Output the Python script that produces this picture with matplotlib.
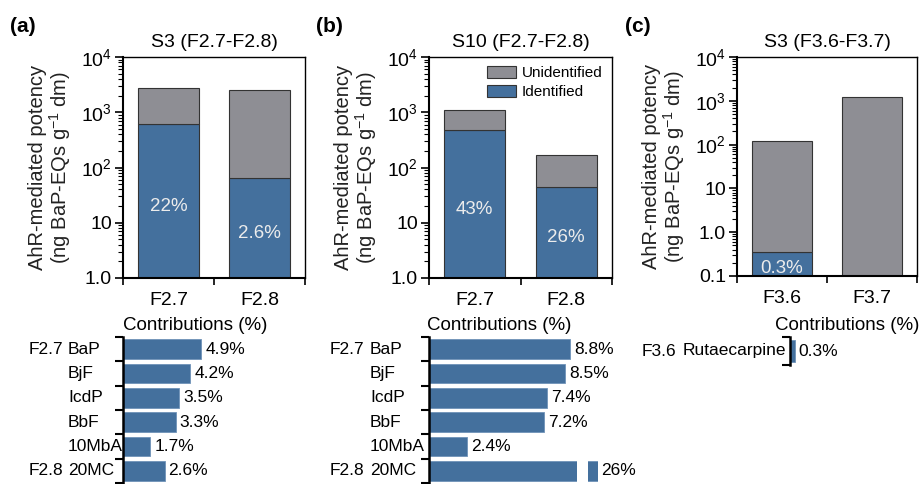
import matplotlib
matplotlib.use("Agg")
import matplotlib.pyplot as plt
from matplotlib.patches import Patch
from matplotlib.ticker import FixedLocator, FixedFormatter, LogLocator, NullFormatter
import matplotlib.transforms as mtransforms

plt.rcParams['font.family'] = ['Liberation Sans', 'DejaVu Sans']
plt.rcParams['mathtext.fontset'] = 'custom'
plt.rcParams['mathtext.rm'] = 'Liberation Sans'
plt.rcParams['mathtext.it'] = 'Liberation Sans:italic'

# ---- potency data (ng BaP-EQs g-1 dm) ----
fractions_a = ["F2.7", "F2.8"]
total_a = [2750, 2500]
identified_a = [615, 65]

fractions_b = ["F2.7", "F2.8"]
total_b = [1100, 170]
identified_b = [475, 44]

fractions_c = ["F3.6", "F3.7"]
total_c = [120, 1200]
identified_c = [0.36, 0]

titles = ["S3 (F2.7-F2.8)", "S10 (F2.7-F2.8)", "S3 (F3.6-F3.7)"]
panel_letters = ["(a)", "(b)", "(c)"]

# ---- contribution data (%) ----
compounds_a = ["BaP", "BjF", "IcdP", "BbF", "10MbA", "20MC"]
groups_a = ["F2.7", "", "", "", "", "F2.8"]
contrib_a = [4.9, 4.2, 3.5, 3.3, 1.7, 2.6]

compounds_b = ["BaP", "BjF", "IcdP", "BbF", "10MbA", "20MC"]
groups_b = ["F2.7", "", "", "", "", "F2.8"]
contrib_b = [8.8, 8.5, 7.4, 7.2, 2.4, 26]

compounds_c = ["Rutaecarpine"]
groups_c = ["F3.6"]
contrib_c = [0.3]

BLUE = "#44709d"
GRAY = "#8e8e94"
EDGE = "#333333"

W, H = 919, 484
fig = plt.figure(figsize=(W / 100, H / 100), dpi=100)


def px_axes(left, top, width, height):
    return fig.add_axes([left / W, (H - top - height) / H, width / W, height / H])


def potency_panel(ax, cats, total, ident, ylo, title, letter, legend=False):
    x = list(range(len(cats)))
    ax.set_yscale('log')
    ax.set_ylim(ylo, 1e4)
    ax.set_xlim(-0.5, 1.5)
    for i in x:
        if ident[i] > 0:
            ax.bar(i, ident[i] - ylo, bottom=ylo, width=0.667, color=BLUE,
                   edgecolor=EDGE, linewidth=0.8, zorder=2)
            ax.bar(i, total[i] - ident[i], bottom=ident[i], width=0.667,
                   color=GRAY, edgecolor=EDGE, linewidth=0.8, zorder=2)
            frac = 100 * ident[i] / total[i]
            ypos = (ylo * ident[i]) ** 0.5 * 0.8
            ax.text(i, ypos, f"{frac:.2g}%", ha='center', va='center',
                    fontsize=13.5, color='#ececec', zorder=3)
        else:
            ax.bar(i, total[i] - ylo, bottom=ylo, width=0.667, color=GRAY,
                   edgecolor=EDGE, linewidth=0.8, zorder=2)
    majors = [10 ** k for k in range(-1, 5) if 10 ** k >= ylo]
    names = {0.1: "0.1", 1: "1.0", 10: "10", 100: r"$\mathregular{10^2}$",
             1000: r"$\mathregular{10^3}$", 10000: r"$\mathregular{10^4}$"}
    ax.yaxis.set_major_locator(FixedLocator(majors))
    ax.yaxis.set_major_formatter(FixedFormatter([names[m] for m in majors]))
    ax.yaxis.set_minor_locator(LogLocator(base=10, subs=range(2, 10), numticks=20))
    ax.yaxis.set_minor_formatter(NullFormatter())
    ax.tick_params(axis='y', which='major', direction='out', length=6, width=1.2,
                   labelsize=14, pad=2)
    ax.tick_params(axis='y', which='minor', direction='out', length=3.5, width=0.8)
    ax.set_xticks(x)
    ax.set_xticklabels(cats)
    ax.xaxis.set_minor_locator(FixedLocator([-0.5, 0.5, 1.5]))
    ax.tick_params(axis='x', which='major', length=0, labelsize=14, pad=10)
    ax.tick_params(axis='x', which='minor', direction='out', length=5, width=1.2)
    for s in ('left', 'bottom'):
        ax.spines[s].set_linewidth(1.5)
    for s in ('top', 'right'):
        ax.spines[s].set_linewidth(1.0)
    ax.set_ylabel("AhR-mediated potency\n(ng BaP-EQs g$^{\\mathregular{-1}}$ dm)",
                  fontsize=14.5, linespacing=1.0, labelpad=6, color='#222222')
    ax.set_title(title, fontsize=14, pad=7)
    ax.text(-0.62, 1.14, letter, transform=ax.transAxes, fontsize=15,
            fontweight='bold', ha='left', va='center')
    if legend:
        handles = [Patch(facecolor=GRAY, edgecolor=EDGE, linewidth=0.8, label="Unidentified"),
                   Patch(facecolor=BLUE, edgecolor=EDGE, linewidth=0.8, label="Identified")]
        ax.legend(handles=handles, loc='upper right', frameon=False, fontsize=11,
                  handlelength=1.9, handleheight=0.8, handletextpad=0.4,
                  labelspacing=0.3, borderaxespad=0.2, bbox_to_anchor=(1.0, 1.0))


def contrib_panel(ax, compounds, groups, values, xmax, comp_off, grp_off,
                  skip_label=()):
    n = len(compounds)
    y = list(range(n))
    ax.barh(y, values, height=0.82, color=BLUE, edgecolor='#6f93b8',
            linewidth=0.6, zorder=2)
    ax.set_xlim(0, xmax)
    ax.set_ylim(n - 0.5, -0.5)
    ax.xaxis.set_visible(False)
    for s in ('top', 'right', 'bottom'):
        ax.spines[s].set_visible(False)
    ax.spines['left'].set_linewidth(1.8)
    ax.set_yticks([k - 0.5 for k in range(n + 1)])
    ax.set_yticklabels([])
    ax.tick_params(axis='y', direction='out', length=6, width=1.5)
    trans = mtransforms.blended_transform_factory(ax.transAxes, ax.transData)
    for i in y:
        off = mtransforms.ScaledTranslation(comp_off / 100, 0, fig.dpi_scale_trans)
        ax.text(0, i, compounds[i], transform=trans + off, ha='left',
                va='center', fontsize=12.5)
        if groups[i]:
            off2 = mtransforms.ScaledTranslation(grp_off / 100, 0, fig.dpi_scale_trans)
            ax.text(0, i, groups[i], transform=trans + off2, ha='right',
                    va='center', fontsize=12.5)
        if i not in skip_label:
            ax.text(values[i] + 0.25, i, f"{values[i]:g}%", ha='left',
                    va='center', fontsize=12.5, clip_on=False)


# ---- top row ----
ax_a = px_axes(123, 57, 182, 221)
potency_panel(ax_a, fractions_a, total_a, identified_a, 1.0, titles[0], panel_letters[0])

ax_b = px_axes(429, 57, 183, 221)
potency_panel(ax_b, fractions_b, total_b, identified_b, 1.0, titles[1], panel_letters[1],
              legend=True)

ax_c = px_axes(737, 57, 180, 219)
potency_panel(ax_c, fractions_c, total_c, identified_c, 0.1, titles[2], panel_letters[2])

# ---- bottom row ----
bx_a = px_axes(123, 337, 160, 146)
contrib_panel(bx_a, compounds_a, groups_a, contrib_a, 10, -55, -60)

bx_b = px_axes(429, 337, 148, 146)
contrib_panel(bx_b, compounds_b, groups_b, contrib_b, 9.25, -59, -65, skip_label=(5,))

# broken-axis stub for the 20MC bar in panel (b)
stub = px_axes(588, 337, 10, 146)
stub.barh(range(len(contrib_b)), contrib_b, height=0.82, color=BLUE,
          edgecolor='#6f93b8', linewidth=0.6)
stub.set_xlim(25.4, 26.0)
stub.set_ylim(len(contrib_b) - 0.5, -0.5)
stub.axis('off')
stub.text(contrib_b[5] + 0.18, 5, f"{contrib_b[5]:g}%", ha='left', va='center',
          fontsize=12.5, clip_on=False)

bx_c = px_axes(790, 337, 112, 28)
contrib_panel(bx_c, compounds_c, groups_c, contrib_c, 7, -107, -114)

for cx in (195, 499, 847):
    fig.text(cx / W, (H - 325) / H, "Contributions (%)", ha='center', va='center',
             fontsize=13.5)

fig.savefig("out.png", dpi=100)
